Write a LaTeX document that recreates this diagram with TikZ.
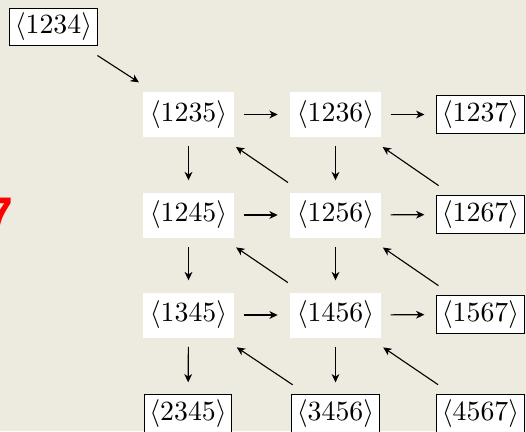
\documentclass[tikz,border=0pt]{standalone}
\usepackage{fontspec}
\newfontfamily\markfont{Liberation Sans}
\usetikzlibrary{arrows.meta}
\definecolor{paper}{RGB}{237,234,224}
\begin{document}
\begin{tikzpicture}[x=0.36pt,y=-0.36pt,
  inner/.style={fill=white, minimum width=32.8pt, minimum height=16.2pt, inner sep=0pt},
  outer/.style={fill=white, draw=black, line width=0.4pt, minimum width=31.6pt, minimum height=13.6pt, inner sep=0pt},
  arr/.style={-{Stealth[length=3pt,width=2.8pt,inset=0.9pt]}, line width=0.4pt, shorten <=3.2pt, shorten >=4.2pt},
  diag/.style={arr, shorten <=6pt, shorten >=6pt}]
\fill[paper] (0,0) rectangle (526,431);
\useasboundingbox (0,0) rectangle (526,431);

% stray red numeral at the left margin
\node[anchor=base east, inner sep=0pt, text=red,
      font=\fontsize{18}{18}\selectfont\markfont\bfseries] (seven) at (13.5,232) {7};

% grid of subsets
\node[outer] (n1234) at (53.5,27) {$\langle 1234\rangle$};

\node[inner] (n1235) at (188.5,114.5) {$\langle 1235\rangle$};
\node[inner] (n1236) at (335.5,114.5) {$\langle 1236\rangle$};
\node[outer] (n1237) at (480.5,114.5) {$\langle 1237\rangle$};

\node[inner] (n1245) at (188.5,215) {$\langle 1245\rangle$};
\node[inner] (n1256) at (335.5,215) {$\langle 1256\rangle$};
\node[outer] (n1267) at (480.5,214.5) {$\langle 1267\rangle$};

\node[inner] (n1345) at (188.5,315) {$\langle 1345\rangle$};
\node[inner] (n1456) at (335.5,315) {$\langle 1456\rangle$};
\node[outer] (n1567) at (480.5,314.5) {$\langle 1567\rangle$};

\node[outer] (n2345) at (188,413.5) {$\langle 2345\rangle$};
\node[outer] (n3456) at (335.5,413.5) {$\langle 3456\rangle$};
\node[outer] (n4567) at (480.5,413.5) {$\langle 4567\rangle$};

% horizontal maps
\draw[arr] (n1235) -- (n1236);
\draw[arr] (n1236) -- (n1237);
\draw[arr] (n1245) -- (n1256);
\draw[arr] (n1256) -- (n1267);
\draw[arr] (n1345) -- (n1456);
\draw[arr] (n1456) -- (n1567);

% vertical maps
\draw[arr] (n1235) -- (n1245);
\draw[arr] (n1245) -- (n1345);
\draw[arr] (n1345) -- (n2345);
\draw[arr] (n1236) -- (n1256);
\draw[arr] (n1256) -- (n1456);
\draw[arr] (n1456) -- (n3456);

% diagonal maps
\draw[diag] (n1234) -- (n1235);
\draw[diag] (n1256) -- (n1235);
\draw[diag] (n1267) -- (n1236);
\draw[diag] (n1456) -- (n1245);
\draw[diag] (n1567) -- (n1256);
\draw[diag] (n3456) -- (n1345);
\draw[diag] (n4567) -- (n1456);
\end{tikzpicture}
\end{document}
